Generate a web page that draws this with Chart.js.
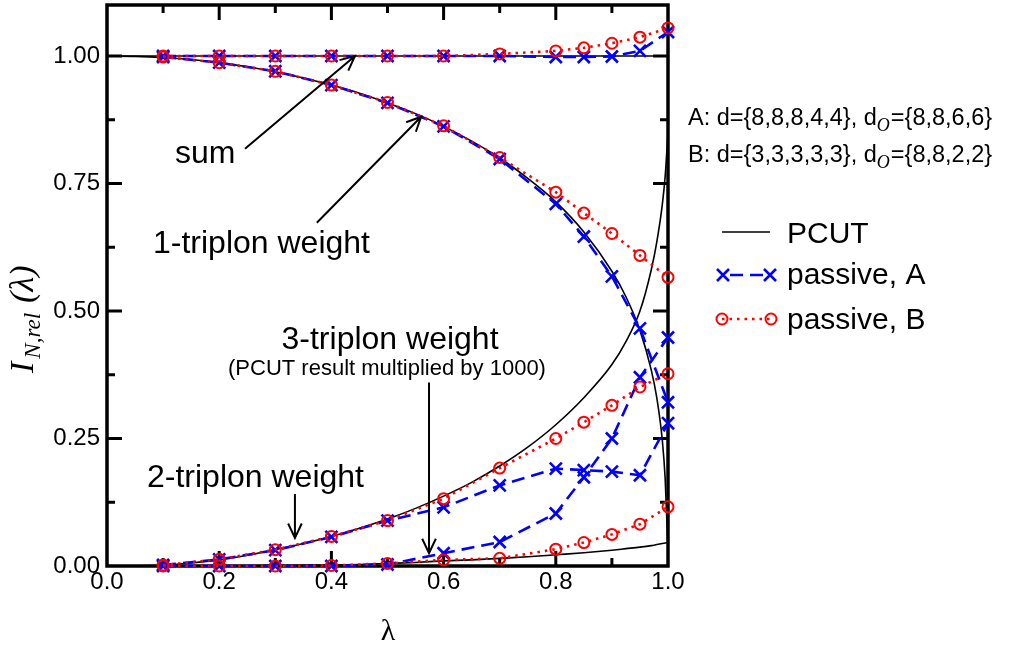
<!DOCTYPE html>
<html>
<head>
<meta charset="utf-8">
<script src="https://cdn.jsdelivr.net/npm/chart.js@4.4.1/dist/chart.umd.min.js"></script>
<style>
  html, body { margin: 0; padding: 0; background: #ffffff; overflow: hidden; }
  canvas { display: block; }
</style>
</head>
<body>
<canvas id="chart" width="1011" height="645"></canvas>
<script>
// λ values of the passive (truncated) calculations
const lambdaPassive = [0.1, 0.2, 0.3, 0.4, 0.5, 0.6, 0.7, 0.8, 0.85, 0.9, 0.95, 1.0];

// passive, A: d={8,8,8,4,4}, d_O={8,8,6,6}
const sumA   = [1.000, 1.000, 1.000, 1.000, 1.000, 1.000, 1.000, 0.998, 0.998, 0.999, 1.010, 1.047];
const oneA   = [0.998, 0.987, 0.970, 0.943, 0.908, 0.862, 0.798, 0.710, 0.646, 0.568, 0.466, 0.321];
const twoA   = [0.002, 0.013, 0.031, 0.057, 0.089, 0.115, 0.158, 0.191, 0.188, 0.185, 0.178, 0.280];
const threeA = [0.000, 0.000, 0.000, 0.000, 0.003, 0.025, 0.047, 0.103, 0.174, 0.250, 0.370, 0.448];

// passive, B: d={3,3,3,3,3}, d_O={8,8,2,2}
const sumB   = [1.000, 1.000, 1.000, 1.000, 1.000, 1.000, 1.004, 1.010, 1.016, 1.025, 1.037, 1.055];
const oneB   = [0.998, 0.987, 0.970, 0.943, 0.909, 0.863, 0.801, 0.733, 0.692, 0.652, 0.609, 0.566];
const twoB   = [0.002, 0.013, 0.032, 0.058, 0.089, 0.132, 0.192, 0.250, 0.282, 0.315, 0.351, 0.377];
const threeB = [0.000, 0.000, 0.000, 0.001, 0.005, 0.012, 0.015, 0.033, 0.046, 0.062, 0.082, 0.116];

// PCUT curves
const lambdaPcut = [0, 0.05, 0.1, 0.15, 0.2, 0.25, 0.3, 0.35, 0.4, 0.45, 0.5, 0.55, 0.6, 0.65,
                    0.7, 0.75, 0.8, 0.85, 0.9, 0.925, 0.95, 0.97, 0.98, 0.99, 0.995, 1.0];
const pcutSum   = [1, 1, 1, 1, 1, 1, 1, 1, 1, 1, 1, 1, 1, 1, 1, 1, 1, 1, 1, 1, 1, 1, 1, 1, 1, 1];
const pcutOne   = [1.000, 0.9993, 0.997, 0.993, 0.987, 0.979, 0.969, 0.957, 0.943, 0.927, 0.908, 0.887, 0.862,
                   0.833, 0.800, 0.760, 0.714, 0.655, 0.578, 0.528, 0.462, 0.385, 0.330, 0.245, 0.170, 0.030];
const pcutTwo   = [0.000, 0.0005, 0.002, 0.006, 0.012, 0.021, 0.032, 0.044, 0.058, 0.074, 0.092, 0.113, 0.137,
                   0.164, 0.196, 0.233, 0.277, 0.330, 0.395, 0.440, 0.500, 0.580, 0.635, 0.710, 0.765, 0.850];
// 3-triplon PCUT weight, multiplied by 1000
const pcutThree = [0.000, 0.000, 0.000, 0.000, 0.0002, 0.0005, 0.001, 0.0015, 0.002, 0.003, 0.005, 0.007, 0.010,
                   0.012, 0.015, 0.018, 0.022, 0.026, 0.031, 0.034, 0.037, 0.040, 0.042, 0.044, 0.045, 0.046];

// axis ticks
const xMajorTicks = [0.2, 0.4, 0.6, 0.8];
const xMinorTicks = [0.1, 0.3, 0.5, 0.7, 0.9];
const yMajorTicks = [0.25, 0.5, 0.75, 1.0];
const yMinorTicks = [0.125, 0.375, 0.625, 0.875];

const legendLabels = ['PCUT', 'passive, A', 'passive, B'];
const paramLines = [
  ['A: d={8,8,8,4,4}, d', 'O', '={8,8,6,6}'],
  ['B: d={3,3,3,3,3}, d', 'O', '={8,8,2,2}']
];

const BLUE = '#0000ff';
const RED = '#ff0000';
const SANS = '"Liberation Sans", Arial, Helvetica, sans-serif';
const SERIF = '"Liberation Serif", "Times New Roman", serif';

const pts = (xs, ys) => xs.map((x, i) => ({ x: x, y: ys[i] }));

function pcutSet(ys) {
  return {
    label: 'PCUT', data: pts(lambdaPcut, ys), showLine: true,
    borderColor: '#000', borderWidth: 1.6, pointRadius: 0,
    cubicInterpolationMode: 'monotone', order: 2, clip: false
  };
}
function passiveA(ys) {
  return {
    label: 'passive, A', data: pts(lambdaPassive, ys), showLine: true,
    borderColor: BLUE, borderWidth: 2.6, borderDash: [13, 7],
    pointStyle: 'crossRot', pointRadius: 8.5, pointBorderWidth: 2.6,
    pointBorderColor: BLUE, pointBackgroundColor: BLUE, order: 1, clip: false
  };
}
function passiveB(ys) {
  return {
    label: 'passive, B', data: pts(lambdaPassive, ys), showLine: true,
    borderColor: RED, borderWidth: 2.6, borderDash: [2.5, 5],
    pointStyle: 'circle', pointRadius: 5.5, pointBorderWidth: 2,
    pointBorderColor: RED, pointBackgroundColor: 'rgba(0,0,0,0)', order: 0, clip: false
  };
}

// annotation arrows in (λ, I) coordinates
const arrows = [
  { from: [0.246, 0.818], to: [0.442, 1.000] },
  { from: [0.374, 0.673], to: [0.560, 0.881] },
  { from: [0.574, 0.360], to: [0.574, 0.025] },
  { from: [0.335, 0.141], to: [0.335, 0.055] }
];
const notes = [
  { text: 'sum', at: [0.1212, 0.7906], size: 32, align: 'left' },
  { text: '1-triplon weight', at: [0.0820, 0.6145], size: 32, align: 'left' },
  { text: '2-triplon weight', at: [0.0713, 0.1546], size: 32, align: 'left' },
  { text: '3-triplon weight', at: [0.5045, 0.4247], size: 32, align: 'center' },
  { text: '(PCUT result multiplied by 1000)', at: [0.4991, 0.3737], size: 22, align: 'center' }
];

function drawArrow(ctx, x0, y0, x1, y1) {
  const ang = Math.atan2(y1 - y0, x1 - x0);
  const len = 16, spread = 0.44;
  ctx.beginPath();
  ctx.moveTo(x0, y0); ctx.lineTo(x1, y1);
  ctx.moveTo(x1 - len * Math.cos(ang - spread), y1 - len * Math.sin(ang - spread));
  ctx.lineTo(x1, y1);
  ctx.lineTo(x1 - len * Math.cos(ang + spread), y1 - len * Math.sin(ang + spread));
  ctx.stroke();
}

function drawCross(ctx, x, y, r) {
  ctx.beginPath();
  ctx.moveTo(x - r, y - r); ctx.lineTo(x + r, y + r);
  ctx.moveTo(x - r, y + r); ctx.lineTo(x + r, y - r);
  ctx.stroke();
}

const framePlugin = {
  id: 'frame',
  beforeDatasetsDraw(chart) {
    const { ctx, chartArea: a, scales: { x, y } } = chart;
    ctx.save();
    ctx.strokeStyle = '#000';
    ctx.lineCap = 'butt';
    // inward ticks on all four sides
    ctx.lineWidth = 3;
    const tickX = (vals, len) => vals.forEach(v => {
      const px = x.getPixelForValue(v);
      ctx.beginPath();
      ctx.moveTo(px, a.bottom); ctx.lineTo(px, a.bottom - len);
      ctx.moveTo(px, a.top); ctx.lineTo(px, a.top + len);
      ctx.stroke();
    });
    const tickY = (vals, len) => vals.forEach(v => {
      const py = y.getPixelForValue(v);
      ctx.beginPath();
      ctx.moveTo(a.left, py); ctx.lineTo(a.left + len, py);
      ctx.moveTo(a.right, py); ctx.lineTo(a.right - len, py);
      ctx.stroke();
    });
    tickX(xMajorTicks, 15); tickX(xMinorTicks, 8);
    tickY(yMajorTicks, 15); tickY(yMinorTicks, 8);
    ctx.lineWidth = 3.5;
    ctx.strokeRect(a.left, a.top, a.right - a.left, a.bottom - a.top);
    ctx.restore();
  },
  afterDraw(chart) {
    const { ctx, scales: { x, y } } = chart;
    ctx.save();
    ctx.fillStyle = '#000';
    ctx.strokeStyle = '#000';
    ctx.lineWidth = 2;

    // annotation arrows and labels
    arrows.forEach(ar => drawArrow(ctx,
      x.getPixelForValue(ar.from[0]), y.getPixelForValue(ar.from[1]),
      x.getPixelForValue(ar.to[0]), y.getPixelForValue(ar.to[1])));
    ctx.textBaseline = 'alphabetic';
    notes.forEach(n => {
      ctx.font = n.size + 'px ' + SANS;
      ctx.textAlign = n.align;
      ctx.fillText(n.text, x.getPixelForValue(n.at[0]), y.getPixelForValue(n.at[1]));
    });

    // parameter sets
    ctx.textAlign = 'left';
    [125, 162].forEach((base, i) => {
      const parts = paramLines[i];
      let cx = 688;
      ctx.font = '23.5px ' + SANS;
      ctx.fillText(parts[0], cx, base);
      cx += ctx.measureText(parts[0]).width;
      ctx.font = 'italic 18px ' + SERIF;
      ctx.fillText(parts[1], cx, base + 6);
      cx += ctx.measureText(parts[1]).width + 1;
      ctx.font = '23.5px ' + SANS;
      ctx.fillText(parts[2], cx, base);
    });

    // legend
    ctx.font = '30px ' + SANS;
    ctx.fillText(legendLabels[0], 787, 243);
    ctx.fillText(legendLabels[1], 787, 284);
    ctx.fillText(legendLabels[2], 787, 329);
    ctx.lineWidth = 1.6;
    ctx.beginPath(); ctx.moveTo(722, 232); ctx.lineTo(770, 232); ctx.stroke();
    ctx.strokeStyle = BLUE; ctx.lineWidth = 2.6;
    ctx.setLineDash([13, 7]); ctx.lineDashOffset = -7;
    ctx.beginPath(); ctx.moveTo(723, 275); ctx.lineTo(770, 275); ctx.stroke();
    ctx.setLineDash([]);
    drawCross(ctx, 723, 275, 6); drawCross(ctx, 770, 275, 6);
    ctx.strokeStyle = RED;
    ctx.setLineDash([2.5, 5]); ctx.lineDashOffset = 0;
    ctx.beginPath(); ctx.moveTo(722, 319); ctx.lineTo(771, 319); ctx.stroke();
    ctx.setLineDash([]); ctx.lineWidth = 2;
    ctx.beginPath(); ctx.arc(722, 319, 5.5, 0, Math.PI * 2); ctx.stroke();
    ctx.beginPath(); ctx.arc(771, 319, 5.5, 0, Math.PI * 2); ctx.stroke();

    // axis titles
    ctx.fillStyle = '#000';
    ctx.font = '30px ' + SERIF;
    ctx.textAlign = 'center';
    ctx.fillText('λ', 388, 640);

    ctx.translate(33, 301);
    ctx.rotate(-Math.PI / 2);
    ctx.textAlign = 'left';
    const fI = 'italic 34px ' + SERIF, fSub = 'italic 23px ' + SERIF;
    let tx = -72;
    ctx.font = fI; ctx.fillText('I', tx, 0); tx += ctx.measureText('I').width + 3;
    ctx.font = fSub; ctx.fillText('N,rel', tx, 7); tx += ctx.measureText('N,rel').width + 10;
    ctx.font = fI; ctx.fillText('(λ)', tx, 0);
    ctx.restore();
  }
};

new Chart(document.getElementById('chart'), {
  type: 'scatter',
  data: {
    datasets: [
      pcutSet(pcutSum), pcutSet(pcutOne), pcutSet(pcutTwo), pcutSet(pcutThree),
      passiveA(sumA), passiveA(oneA), passiveA(twoA), passiveA(threeA),
      passiveB(sumB), passiveB(oneB), passiveB(twoB), passiveB(threeB)
    ]
  },
  options: {
    responsive: false,
    animation: false,
    devicePixelRatio: 1,
    layout: { padding: { left: 0, right: 343, top: 0, bottom: 0 } },
    plugins: { legend: { display: false }, tooltip: { enabled: false } },
    scales: {
      x: {
        type: 'linear', min: 0, max: 1,
        grid: { display: false, drawTicks: false },
        border: { display: false },
        ticks: {
          stepSize: 0.2, padding: 2, color: '#000',
          font: { family: SANS, size: 24 },
          callback: v => v.toFixed(1)
        },
        afterFit: s => { s.height = 79; s.paddingLeft = 0; s.paddingRight = 0; }
      },
      y: {
        type: 'linear', min: 0, max: 1.1,
        grid: { display: false, drawTicks: false },
        border: { display: false },
        ticks: {
          stepSize: 0.25, includeBounds: false, padding: 7, color: '#000',
          font: { family: SANS, size: 24 },
          callback: v => (v <= 1.0001 ? v.toFixed(2) : '')
        },
        afterFit: s => { s.width = 107; s.paddingTop = 0; s.paddingBottom = 0; }
      }
    }
  },
  plugins: [framePlugin, {
    id: 'plotBox',
    // pin the plot rectangle: top edge 5 px below the canvas edge
    afterLayout(chart) {
      const a = chart.chartArea, ys = chart.scales.y;
      const top = 5;
      a.top = top; a.height = a.bottom - top;
      ys.top = top; ys.height = ys.bottom - top;
      ys.configure();
    }
  }]
});
</script>
</body>
</html>
